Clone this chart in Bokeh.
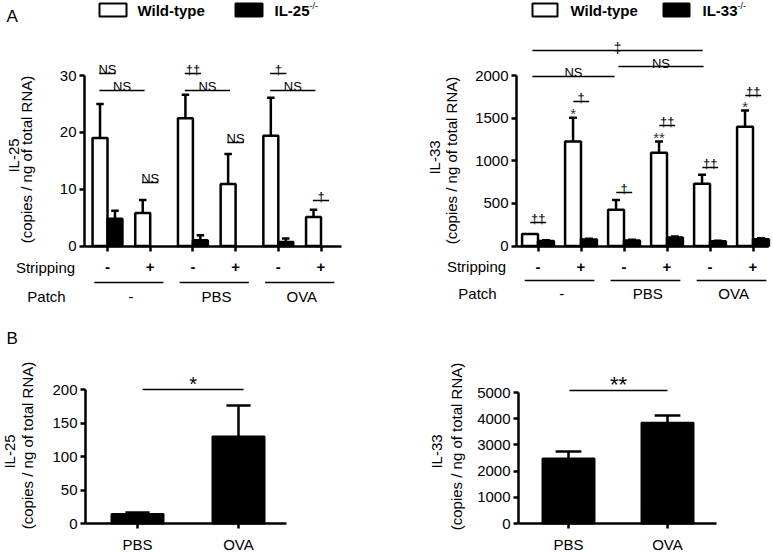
import math
import numpy as np
from bokeh.plotting import figure
from bokeh.models import Range1d, FixedTicker, LinearAxis
from bokeh.layouts import column, row
from bokeh.embed import file_html
from bokeh.resources import INLINE
from bokeh.core.properties import value

FONT = "Liberation Sans"

# ---------------- data ----------------
stripping = ["-", "+", "-", "+", "-", "+"]
patch = ["-", "PBS", "OVA"]

il25_wt = [19.0, 5.8, 22.5, 10.9, 19.4, 5.1]
il25_wt_sem = [6.0, 2.3, 4.1, 5.3, 6.7, 1.3]
il25_ko = [4.8, None, 1.0, None, 0.7, None]
il25_ko_sem = [1.4, None, 0.9, None, 0.6, None]

il33_wt = [140, 1225, 425, 1095, 730, 1400]
il33_wt_sem = [0, 280, 115, 130, 105, 190]
il33_ko = [60, 75, 65, 100, 55, 80]
il33_ko_sem = [8, 10, 8, 10, 8, 10]

b_groups = ["PBS", "OVA"]
b_il25 = [14, 130]
b_il25_sem = [2.5, 46]
b_il33 = [2480, 3850]
b_il33_sem = [270, 270]

il25_ticks = [0, 10, 20, 30]
il33_ticks = [0, 500, 1000, 1500, 2000]
b_il25_ticks = [0, 50, 100, 150, 200]
b_il33_ticks = [0, 1000, 2000, 3000, 4000, 5000]


# ---------------- helpers ----------------
class Panel:
    """A figure whose frame covers the whole canvas; (left, top) are page
    pixel coordinates of the canvas corner, (x0, y0) the pixel of data origin."""

    def __init__(self, w, h, left, top, x0, xs, y0, ys):
        self.x0, self.xs, self.y0, self.ys = x0, xs, y0, ys
        p = figure(width=w, height=h,
                   x_range=Range1d((left - x0) / xs, (left + w - x0) / xs),
                   y_range=Range1d((y0 - (top + h)) / ys, (y0 - top) / ys),
                   output_backend="svg", toolbar_location=None, min_border=0,
                   x_axis_location=None, y_axis_location=None)
        p.outline_line_color = None
        p.background_fill_color = "white"
        p.border_fill_color = "white"
        p.grid.visible = False
        self.p = p

    def X(self, px):
        return (px - self.x0) / self.xs

    def Y(self, py):
        return (self.y0 - py) / self.ys

    def dtext(self, x, y, s, size=15, bold=False, align="center", baseline="middle",
              angle=0.0, color="black"):
        self.p.text(x=[x], y=[y], text=[s], angle=angle, text_font=value(FONT),
                    text_font_size=f"{size}px",
                    text_font_style="bold" if bold else "normal",
                    text_align=align, text_baseline=baseline, text_color=color)

    def ptext(self, px, py, s, **kw):
        self.dtext(self.X(px), self.Y(py), s, **kw)

    def seg(self, x0, y0, x1, y1, width=1.5):
        self.p.segment(x0=[x0], y0=[y0], x1=[x1], y1=[y1], line_width=width,
                       line_color="black", line_cap="butt")


def add_axes(P, yloc, xbounds, xticks, xlabels, ybounds, yticks, bold_x, xstand):
    common = dict(axis_line_width=2.5, axis_line_color="black", axis_line_cap="butt",
                  major_tick_line_width=2.5, major_tick_line_color="black",
                  major_tick_in=0, major_tick_out=5, minor_tick_in=0, minor_tick_out=0,
                  major_label_text_font=FONT, major_label_text_font_size="15px",
                  major_label_text_color="black")
    xa = LinearAxis(fixed_location=0, bounds=xbounds,
                    ticker=FixedTicker(ticks=xticks, minor_ticks=[]),
                    major_label_overrides={t: l for t, l in zip(xticks, xlabels)},
                    major_label_standoff=xstand,
                    major_label_text_font_style="bold" if bold_x else "normal",
                    **common)
    P.p.add_layout(xa, "below")
    ya = LinearAxis(fixed_location=yloc, bounds=ybounds,
                    ticker=FixedTicker(ticks=yticks, minor_ticks=[]),
                    major_label_standoff=3, **common)
    P.p.add_layout(ya, "left")


def err_bars(P, xs, vals, sems, half):
    xs = np.asarray(xs, float)
    v = np.array(vals, dtype=float)
    s = np.array(sems, dtype=float)
    m = ~np.isnan(v) & ~np.isnan(s) & (s > 0)
    top = v[m] + s[m]
    P.p.segment(x0=xs[m], y0=v[m], x1=xs[m], y1=top, line_width=2.5, line_color="black")
    P.p.segment(x0=xs[m] - half, y0=top, x1=xs[m] + half, y1=top, line_width=2.5,
                line_color="black")


def grouped(P, wt, wt_sem, ko, ko_sem, bw):
    idx = np.arange(len(wt))
    xw, xk = idx - bw / 2, idx + bw / 2
    err_bars(P, xw, wt, wt_sem, bw / 4)
    err_bars(P, xk, ko, ko_sem, bw / 4)
    P.p.vbar(x=xw, top=np.array(wt, dtype=float), width=bw, bottom=0,
             fill_color="white", line_color="black", line_width=2.5)
    P.p.vbar(x=xk, top=np.array(ko, dtype=float), width=bw, bottom=0,
             fill_color="black", line_color="black", line_width=2.5)
    return xw


def bracket(P, x0, x1, py, label, size=13, gap=4.4):
    y = P.Y(py)
    P.seg(x0, y, x1, y)
    P.dtext((x0 + x1) / 2, P.Y(py - gap), label, size=size, baseline="alphabetic")


def legend(P, wx, tx, kx, ktx, label, supx):
    p = P.p
    p.quad(left=[P.X(wx[0])], right=[P.X(wx[1])], bottom=[P.Y(16)], top=[P.Y(3)],
           fill_color="white", line_color="black", line_width=2)
    P.ptext(tx, 10, "Wild-type", size=15, bold=True, align="left")
    p.quad(left=[P.X(kx[0])], right=[P.X(kx[1])], bottom=[P.Y(16)], top=[P.Y(3)],
           fill_color="black", line_color="black", line_width=2)
    P.ptext(ktx, 10, label, size=15, bold=True, align="left")
    P.ptext(supx, 5.5, "-/-", size=9, align="left")


def strip_rows(P, sx, sy, line_py, py_patch, half=0.81):
    P.ptext(sx, sy, "Stripping", size=15)
    for k, lab in enumerate(patch):
        c = 2 * k + 0.5
        P.seg(c - half, P.Y(line_py), c + half, P.Y(line_py), width=1.5)
        P.dtext(c + 0.05, P.Y(py_patch), lab, size=15)
    P.ptext(sx + 1, py_patch, "Patch", size=15)


# ---------------- panel A, IL-25 ----------------
A1 = Panel(390, 308, 0, 0, 107, 42.7, 245.5, 170.5 / 30)
add_axes(A1, A1.X(84), (A1.X(84), A1.X(341)), list(range(6)), stripping,
         (0, 30), il25_ticks, True, 11)
grouped(A1, il25_wt, il25_wt_sem, il25_ko, il25_ko_sem, 0.35)
for i, lab in zip([0, 2, 4], ["NS", "\u2020\u2020", "\u2020"]):
    bracket(A1, i - 0.19, i + 0.19, 73, lab)
    bracket(A1, i - 0.19, i + 0.87, 90, "NS")
for i, py, lab in zip([1, 3, 5], [182, 142, 200], ["NS", "NS", "\u2020"]):
    bracket(A1, i - 0.19, i + 0.19, py, lab)
strip_rows(A1, 45, 267, 282, 296)
A1.ptext(13, 155, "IL-25", size=15, angle=math.pi / 2)
A1.ptext(26, 159, "(copies / ng of total RNA)", size=15, angle=math.pi / 2)
A1.ptext(6, 16, "A", size=17, align="left")
legend(A1, (99, 126), 137, (235, 262), 274, "IL-25", 309)

# ---------------- panel A, IL-33 ----------------
A2 = Panel(382, 308, 390, 0, 537.5, 43.0, 245.5, 170.5 / 2000)
add_axes(A2, A2.X(516), (A2.X(516), A2.X(768)), list(range(6)), stripping,
         (0, 2000), il33_ticks, True, 11)
xw33 = grouped(A2, il33_wt, il33_wt_sem, il33_ko, il33_ko_sem, 0.37)
bracket(A2, -0.13, 3.83, 50, "\u2021", size=14, gap=3)
bracket(A2, -0.13, 1.78, 76, "NS", gap=4)
bracket(A2, 1.87, 3.85, 66, "NS", gap=3)
for i, py, lab in zip(range(6), [222, 101, 192, 125, 167, 95],
                      ["\u2020\u2020", "\u2020", "\u2020", "\u2020\u2020",
                       "\u2020\u2020", "\u2020\u2020"]):
    bracket(A2, i - 0.18, i + 0.19, py, lab)
for i, lab in zip([1, 3, 5], ["*", "**", "*"]):
    A2.dtext(xw33[i], il33_wt[i] + il33_wt_sem[i] + 4.0 / A2.ys, lab, size=15,
             baseline="alphabetic", color="#333333")
strip_rows(A2, 476, 266, 280, 293)
A2.ptext(434, 157, "IL-33", size=15, angle=math.pi / 2)
A2.ptext(451, 160, "(copies / ng of total RNA)", size=15, angle=math.pi / 2)
legend(A2, (532, 557), 570, (663, 689), 702, "IL-33", 737)

# ---------------- panel B, IL-25 ----------------
B1 = Panel(390, 243, 0, 308, 137, 101, 523, 134 / 200)
add_axes(B1, B1.X(85), (B1.X(85), B1.X(286)), [0, 1], b_groups, (0, 200),
         b_il25_ticks, False, 7)
err_bars(B1, [0, 1], b_il25, b_il25_sem, 0.12)
B1.p.vbar(x=[0, 1], top=b_il25, width=0.515, bottom=0, fill_color="black",
          line_color="black", line_width=2)
bracket(B1, 0.05, 1.05, 389, "*", size=20, gap=6)
B1.ptext(9, 451, "IL-25", size=15, angle=math.pi / 2)
B1.ptext(27, 445, "(copies / ng of total RNA)", size=15, angle=math.pi / 2)
B1.ptext(6, 338, "B", size=17, align="left")

# ---------------- panel B, IL-33 ----------------
B2 = Panel(382, 243, 390, 308, 568, 99, 523, 131 / 5000)
add_axes(B2, B2.X(518), (B2.X(518), B2.X(716)), [0, 1], b_groups, (0, 5000),
         b_il33_ticks, False, 7)
err_bars(B2, [0, 1], b_il33, b_il33_sem, 0.13)
B2.p.vbar(x=[0, 1], top=b_il33, width=0.525, bottom=0, fill_color="black",
          line_color="black", line_width=2)
bracket(B2, 0.01, 1.0, 390, "**", size=22, gap=6)
B2.ptext(436, 451, "IL-33", size=15, angle=math.pi / 2)
B2.ptext(456, 446, "(copies / ng of total RNA)", size=15, angle=math.pi / 2)

layout = column(row(A1.p, A2.p), row(B1.p, B2.p))
open("out.html", "w").write(file_html(layout, INLINE))
